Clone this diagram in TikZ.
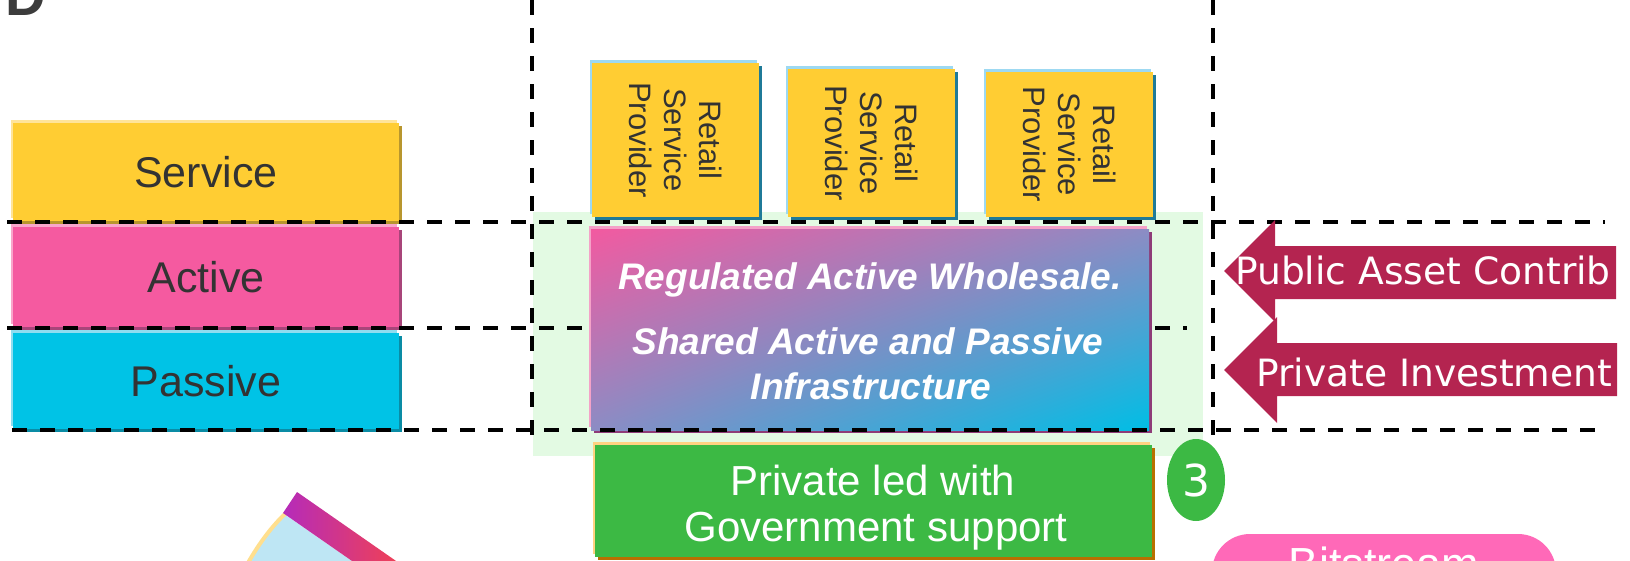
\documentclass[tikz,border=0pt]{standalone}
\usepackage{fontspec}
\setmainfont{Liberation Sans}
\newfontfamily\dvfont{DejaVu Sans}
\usetikzlibrary{shapes.geometric,shadows,shadings}
\definecolor{cD}{HTML}{3C3C3C}
\definecolor{cService}{HTML}{FFCD33}
\definecolor{cServiceL}{HTML}{FFE49A}
\definecolor{cServiceD}{HTML}{B8962E}
\definecolor{cActive}{HTML}{F55AA0}
\definecolor{cActiveL}{HTML}{F9A6CB}
\definecolor{cActiveD}{HTML}{A8457A}
\definecolor{cPassive}{HTML}{00C3E6}
\definecolor{cPassiveL}{HTML}{8FDDF0}
\definecolor{cPassiveD}{HTML}{0A8CA5}
\definecolor{cRetailL}{HTML}{9DD9F2}
\definecolor{cRetailD}{HTML}{1F7A98}
\definecolor{cGreenBg}{HTML}{E3FAE3}
\definecolor{cGradA}{HTML}{F25AA0}
\definecolor{cGradB}{HTML}{00BEE5}
\definecolor{cGradM}{HTML}{8C8CC4}
\definecolor{cGradL}{HTML}{F4A2C8}
\definecolor{cGradD}{HTML}{8E3C78}
\definecolor{cGreen}{HTML}{3CB944}
\definecolor{cGreenL}{HTML}{FFD282}
\definecolor{cGreenD}{HTML}{B87000}
\definecolor{cArrow}{HTML}{B42450}
\definecolor{cPink}{HTML}{FF69B8}
\definecolor{cTxt}{HTML}{333333}
\definecolor{cWedge}{HTML}{BEE6F4}
\definecolor{cArc}{HTML}{FFDF8E}
\definecolor{cBarA}{HTML}{B52BBA}
\definecolor{cBarB}{HTML}{F5434C}
\tikzset{
  boxbase/.style={anchor=north west, inner sep=0pt, outer sep=0pt},
  edged/.style 2 args={general shadow={fill=#2, shadow xshift=3pt, shadow yshift=-3pt},
                       general shadow={fill=#1, shadow xshift=-2pt, shadow yshift=3pt}},
  lbl/.style={text=cTxt, font=\fontsize{43}{48}\selectfont},
  rtext/.style={rotate=-90, align=center, text=cTxt, inner sep=0pt, font=\fontsize{31}{35}\selectfont},
  gtext/.style={anchor=base, text=white, inner sep=0pt, font=\fontsize{37}{42}\selectfont\bfseries\itshape},
  wtext/.style={anchor=base, text=white, inner sep=0pt, font=\fontsize{42}{47}\selectfont},
  atext/.style={anchor=base west, text=white, inner sep=0pt, font=\dvfont\fontsize{37.6}{42}\selectfont},
  dashln/.style={line width=3.6pt, dash pattern=on 15pt off 13pt},
}
\begin{document}
\begin{tikzpicture}[x=1pt,y=-1pt]
\useasboundingbox (0,0) rectangle (1630,560);
\clip (0,0) rectangle (1630,560);

% cut-off title letter
\node[anchor=base west, inner sep=0pt, text=cD, font=\fontsize{56}{60}\selectfont\bfseries] (ttl) at (5,15) {D};

% light green background
\fill[cGreenBg] (533,212) rectangle (1203,456);

% layer boxes
\node[boxbase, fill=cService, minimum width=386pt, minimum height=98pt, edged={cServiceL}{cServiceD}, lbl] (service) at (13,123) {Service};
\node[boxbase, fill=cActive, minimum width=386pt, minimum height=100pt, edged={cActiveL}{cActiveD}, lbl] (active) at (13,227) {Active};
\node[boxbase, fill=cPassive, minimum width=386pt, minimum height=96pt, edged={cPassiveL}{cPassiveD}, lbl] (passive) at (13,333) {Passive};

% middle dashed line (behind the gradient box)
\draw[dashln] (7,328) -- (1187,328);

% retail service providers
\node[boxbase, fill=cService, minimum width=167pt, minimum height=154pt, edged={cRetailL}{cRetailD}] (r1) at (592,63) {};
\node[rtext] (r1t) at (r1.center) {Retail\\Service\\Provider};
\node[boxbase, fill=cService, minimum width=167pt, minimum height=148pt, edged={cRetailL}{cRetailD}] (r2) at (788,69) {};
\node[rtext] (r2t) at (r2.center) {Retail\\Service\\Provider};
\node[boxbase, fill=cService, minimum width=167pt, minimum height=145pt, edged={cRetailL}{cRetailD}] (r3) at (986,72) {};
\node[rtext] (r3t) at (r3.center) {Retail\\Service\\Provider};

% gradient box
\node[boxbase, shade, upper left=cGradA, lower right=cGradB, upper right=cGradM, lower left=cGradM,
      minimum width=558pt, minimum height=201pt, edged={cGradL}{cGradD}] (grad) at (591,229) {};
\node[gtext] (g1) at (870,289) {Regulated Active Wholesale.};
\node[gtext] (g2) at (868,354) {Shared Active and Passive};
\node[gtext] (g3) at (871,399) {Infrastructure};

% green box
\node[boxbase, fill=cGreen, minimum width=557pt, minimum height=112pt, edged={cGreenL}{cGreenD}] (gov) at (595,445) {};
\node[wtext] (gov1) at (873,495) {Private led with};
\node[wtext] (gov2) at (876,541) {Government support};

% dashed grid lines
\draw[dashln] (7,222) -- (1605,222);
\draw[dashln] (12,430) -- (1595,430);
\draw[dashln] (532,0) -- (532,443);
\draw[dashln] (1213,0) -- (1213,440);

% number badge
\node[ellipse, fill=cGreen, minimum width=58pt, minimum height=82pt, inner sep=0pt, text=white,
      font=\dvfont\fontsize{44}{48}\selectfont] (three) at (1196,480) {3};

% arrows
\fill[cArrow] (1616,246) -- (1275,246) -- (1275,220) -- (1224,271) -- (1275,322) -- (1275,299) -- (1616,299) -- cycle;
\fill[cArrow] (1617,343) -- (1277,343) -- (1277,317) -- (1224,370) -- (1277,423) -- (1277,396) -- (1617,396) -- cycle;
\begin{scope}
\clip (1200,200) rectangle (1617,430);
\node[atext] (pub) at (1235,284) {Public Asset Contrib};
\node[atext] (priv) at (1256,386) {Private Investment};
\end{scope}

% bitstream pill
\fill[cPink, rounded corners=38pt] (1212,534) rectangle (1556,650);
\node[anchor=base, text=white, inner sep=0pt, font=\fontsize{45}{50}\selectfont] (bits) at (1384,579) {Bitstream};

% bottom-left gauge fragment
\fill[cWedge] (284,514) .. controls (270,528) and (256,546) .. (243,570) -- (365,570) -- cycle;
\draw[cArc, line width=4pt] (286,513) .. controls (271,527) and (257,546) .. (244,570);
\shade[left color=cBarA, right color=cBarB] (297,492) -- (409,570) -- (365,570) -- (283,513) -- cycle;
\end{tikzpicture}
\end{document}
